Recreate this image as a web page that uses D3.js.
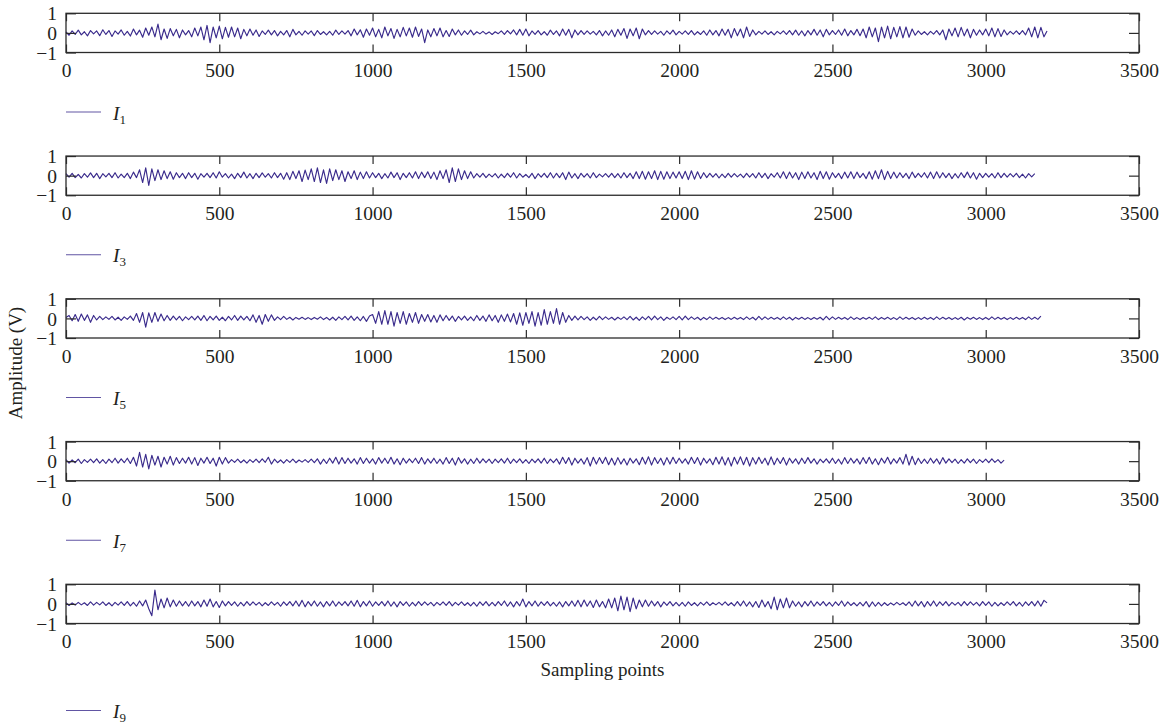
<!DOCTYPE html>
<html>
<head>
<meta charset="utf-8">
<script src="https://d3js.org/d3.v7.min.js"></script>
<style>
  body { margin: 0; background: #fff; }
  svg text { font-family: "Liberation Serif", "DejaVu Serif", serif; fill: #231f20; }
  .tick line { stroke: #2b2b2b; stroke-width: 1.2; }
</style>
</head>
<body>
<svg id="chart" width="1171" height="725"></svg>
<script>
// one value every `step` sampling points
const step = 10;

const I1 = [
  .05,-.12,.1,-.08,.14,-.1,.06,-.15,.12,-.05,.1,-.14,.16,-.08,.12,-.18,.1,-.06,.15,-.12,
  .08,-.16,.2,-.1,.14,-.22,.25,-.12,.3,-.2,.45,-.35,.2,-.28,.22,-.15,.18,-.25,.15,-.1,
  .12,-.2,.25,-.15,.3,-.35,.38,-.5,.3,-.25,.35,-.3,.28,-.22,.3,-.2,.25,-.3,.18,-.15,
  .2,-.12,.15,-.18,.1,-.08,.14,-.1,.12,-.15,.08,-.1,.12,-.2,.18,-.1,.08,-.12,.1,-.06,
  .1,-.14,.12,-.08,.06,-.1,.08,-.12,.14,-.08,.1,-.06,.12,-.15,.2,-.1,.16,-.22,.2,-.12,
  .25,-.2,.18,-.25,.3,-.15,.22,-.28,.18,-.2,.28,-.15,.25,-.22,.3,-.18,.2,-.5,.15,-.2,
  .22,-.15,.25,-.2,.12,-.18,.2,-.1,.15,-.12,.1,-.08,.14,-.1,.06,-.05,.08,-.06,.05,-.08,
  .06,-.04,.1,-.08,.12,-.05,.15,-.1,.18,-.12,.2,-.15,.1,-.08,.12,-.1,.06,-.12,.14,-.08,
  .1,-.15,.2,-.12,.18,-.25,.15,-.1,.12,-.08,.1,-.06,.08,-.1,.12,-.15,.1,-.12,.15,-.2,
  .18,-.12,.22,-.28,.2,-.15,.25,-.3,.2,-.1,.12,-.08,.1,-.06,.08,-.12,.1,-.06,.14,-.1,
  .08,-.06,.1,-.08,.12,-.1,.06,-.08,.1,-.12,.15,-.1,.12,-.15,.2,-.12,.18,-.25,.22,-.15,
  .2,-.25,.3,-.18,.15,-.1,.08,-.06,.1,-.08,.06,-.1,.08,-.05,.1,-.08,.12,-.1,.14,-.12,
  .1,-.15,.12,-.1,.18,-.12,.15,-.2,.18,-.1,.12,-.08,.15,-.12,.2,-.15,.12,-.1,.18,-.14,
  .2,-.25,.3,-.2,.25,-.45,.3,-.25,.35,-.3,.28,-.2,.32,-.25,.3,-.22,.2,-.12,.1,-.08,
  .06,-.1,.08,-.06,.12,-.1,.15,-.35,.2,-.15,.25,-.2,.28,-.15,.2,-.25,.18,-.12,.15,-.1,
  .2,-.15,.25,-.2,.22,-.18,.15,-.1,.08,-.06,.1,-.08,.12,-.1,.25,-.2,.3,-.25,.28,-.2,
  .1
];

const I3 = [
  .1,-.08,.12,-.1,.06,-.12,.1,-.08,.14,-.1,.12,-.15,.1,-.06,.12,-.1,.15,-.12,.08,-.1,
  .12,-.15,.18,-.1,.3,-.35,.4,-.5,.35,-.25,.3,-.2,.25,-.15,.2,-.18,.15,-.1,.12,-.15,
  .15,-.1,.12,-.18,.1,-.08,.12,-.1,.15,-.12,.2,-.08,.1,-.12,.08,-.15,.12,-.1,.18,-.12,
  .1,-.15,.12,-.1,.14,-.08,.1,-.12,.15,-.1,.12,-.18,.15,-.2,.22,-.15,.25,-.3,.28,-.2,
  .35,-.3,.4,-.35,.3,-.4,.35,-.25,.3,-.2,.25,-.3,.2,-.15,.25,-.2,.18,-.15,.2,-.12,
  .15,-.1,.12,-.15,.1,-.12,.18,-.1,.15,-.2,.12,-.1,.15,-.12,.2,-.15,.18,-.1,.2,-.15,
  .18,-.2,.25,-.15,.3,-.35,.4,-.3,.35,-.2,.25,-.15,.2,-.12,.1,-.08,.12,-.1,.08,-.06,
  .1,-.12,.08,-.1,.12,-.08,.15,-.12,.1,-.08,.06,-.1,.12,-.15,.1,-.08,.12,-.1,.15,-.12,
  .12,-.1,.15,-.2,.18,-.12,.1,-.15,.12,-.08,.1,-.12,.15,-.1,.08,-.06,.1,-.08,.12,-.1,
  .1,-.12,.15,-.1,.12,-.15,.2,-.15,.22,-.18,.2,-.15,.25,-.2,.22,-.18,.2,-.15,.18,-.12,
  .2,-.15,.22,-.2,.25,-.18,.2,-.15,.15,-.1,.12,-.08,.1,-.12,.08,-.1,.12,-.08,.1,-.06,
  .08,-.1,.12,-.08,.1,-.12,.15,-.1,.12,-.15,.1,-.08,.15,-.12,.2,-.15,.18,-.12,.15,-.2,
  .18,-.15,.2,-.12,.15,-.2,.22,-.15,.2,-.18,.15,-.1,.12,-.15,.18,-.12,.2,-.15,.18,-.1,
  .12,-.15,.2,-.18,.25,-.15,.3,-.2,.22,-.15,.18,-.12,.15,-.1,.12,-.15,.18,-.1,.12,-.08,
  .15,-.12,.18,-.15,.2,-.12,.15,-.1,.12,-.15,.1,-.12,.15,-.1,.18,-.12,.15,-.18,.12,-.1,
  .12,-.08,.1,-.12,.15,-.1,.12,-.08,.1,-.06,.12,-.1,.08,-.12,.1,-.06,.1
];

const I5 = [
  .05,.15,-.12,.2,-.15,.22,-.1,.18,-.2,.15,-.08,.1,-.06,.08,-.05,.1,-.08,.06,-.1,.08,
  -.05,.12,-.1,.25,-.2,.3,-.45,.28,-.2,.3,-.15,.22,-.12,.15,-.1,.12,-.08,.1,-.12,.08,
  -.06,.1,-.08,.12,-.1,.15,-.12,.1,-.08,.12,-.1,.06,-.12,.1,-.08,.15,-.1,.12,-.08,.1,
  -.12,.18,-.2,.15,-.3,.2,-.15,.18,-.1,.08,-.06,.1,-.05,.06,-.08,.05,-.04,.06,-.05,.04,
  -.06,.05,-.04,.08,-.06,.05,-.08,.06,-.1,.08,-.06,.1,-.08,.12,-.1,.08,-.12,.1,-.15,.12,
  .2,-.25,.35,-.3,.4,-.3,.35,-.4,.3,-.25,.35,-.3,.25,-.2,.3,-.25,.2,-.15,.2,-.18,
  .15,-.2,.18,-.12,.15,-.1,.12,-.15,.1,-.08,.12,-.1,.08,-.12,.15,-.1,.12,-.15,.18,-.12,
  .15,-.2,.18,-.15,.22,-.18,.25,-.3,.28,-.35,.3,-.25,.35,-.4,.3,-.35,.45,-.3,.35,-.25,
  .5,-.3,.3,-.2,.15,-.1,.12,-.08,.1,-.06,.08,-.1,.06,-.08,.1,-.06,.08,-.05,.06,-.08,
  .06,-.05,.08,-.06,.1,-.08,.06,-.1,.08,-.06,.1,-.08,.12,-.06,.08,-.1,.06,-.05,.08,-.06,
  .1,-.08,.12,-.06,.08,-.05,.06,-.08,.05,-.06,.08,-.05,.06,-.04,.05,-.06,.04,-.05,.06,-.04,
  .05,-.06,.08,-.05,.06,-.08,.1,-.06,.08,-.05,.06,-.04,.05,-.06,.08,-.05,.06,-.08,.05,-.04,
  .06,-.05,.04,-.06,.05,-.04,.06,-.08,.1,-.06,.08,-.05,.06,-.04,.05,-.06,.08,-.05,.04,-.06,
  .05,-.04,.06,-.05,.08,-.06,.05,-.04,.06,-.05,.04,-.06,.08,-.05,.06,-.04,.05,-.06,.04,-.05,
  .06,-.04,.05,-.06,.08,-.05,.06,-.04,.05,-.06,.04,-.05,.06,-.08,.05,-.04,.06,-.05,.04,-.06,
  .05,-.06,.08,-.05,.06,-.04,.05,-.06,.04,-.05,.06,-.04,.05,-.06,.08,-.05,.06,-.05,.12
];

const I7 = [
  .08,-.1,.06,-.08,.1,-.12,.08,-.06,.1,-.08,.12,-.1,.08,-.12,.1,-.08,.15,-.1,.12,-.08,
  .15,-.12,.2,-.25,.45,-.3,.35,-.4,.3,-.2,.25,-.3,.2,-.15,.25,-.2,.18,-.12,.15,-.1,
  .2,-.15,.18,-.22,.15,-.1,.2,-.12,.15,-.25,.2,-.15,.18,-.1,.08,-.06,.1,-.08,.06,-.1,
  .08,-.06,.1,-.08,.12,-.06,.2,-.15,.1,-.08,.06,-.1,.08,-.06,.1,-.08,.06,-.05,.08,-.06,
  .1,-.08,.12,-.15,.1,-.12,.15,-.1,.2,-.15,.18,-.12,.15,-.1,.12,-.15,.18,-.12,.15,-.1,
  .12,-.15,.18,-.1,.15,-.12,.2,-.15,.12,-.18,.15,-.1,.12,-.08,.15,-.12,.18,-.15,.12,-.1,
  .15,-.12,.1,-.15,.18,-.12,.15,-.2,.18,-.1,.12,-.15,.1,-.12,.15,-.1,.12,-.08,.1,-.12,
  .1,-.08,.12,-.1,.15,-.12,.1,-.08,.12,-.1,.08,-.12,.1,-.08,.12,-.1,.15,-.12,.1,-.08,
  .12,-.15,.2,-.12,.18,-.2,.15,-.1,.12,-.15,.18,-.25,.2,-.15,.18,-.12,.2,-.18,.15,-.2,
  .18,-.15,.12,-.2,.15,-.1,.12,-.18,.2,-.15,.22,-.2,.18,-.12,.15,-.2,.18,-.15,.2,-.12,
  .15,-.1,.12,-.15,.2,-.12,.18,-.2,.15,-.1,.12,-.18,.2,-.15,.22,-.2,.18,-.25,.2,-.15,
  .22,-.18,.2,-.25,.18,-.15,.2,-.12,.15,-.2,.22,-.18,.15,-.12,.18,-.2,.15,-.1,.12,-.15,
  .15,-.12,.18,-.1,.12,-.15,.1,-.08,.12,-.1,.15,-.12,.1,-.15,.18,-.12,.15,-.1,.12,-.15,
  .18,-.12,.2,-.15,.12,-.18,.15,-.1,.2,-.15,.12,-.1,.18,-.15,.35,-.2,.25,-.18,.15,-.12,
  .1,-.12,.15,-.1,.12,-.15,.18,-.1,.12,-.08,.1,-.12,.08,-.1,.12,-.08,.1,-.12,.08,-.06,
  .1,-.08,.12,-.06,.08,-.1,.05
];

const I9 = [
  .06,-.08,.05,-.06,.08,-.05,.06,-.08,.1,-.06,.08,-.05,.1,-.08,.06,-.1,.08,-.06,.1,-.08,
  .12,-.1,.08,-.12,.15,-.1,.2,-.25,-.6,.7,-.3,.25,-.2,.3,-.15,.2,-.12,.15,-.1,.12,
  -.12,.15,-.1,.12,-.15,.2,-.12,.25,-.15,.12,-.18,.15,-.1,.12,-.08,.1,-.12,.08,-.1,.12,
  -.08,.1,-.06,.08,-.1,.06,-.08,.1,-.06,.08,-.12,.1,-.08,.12,-.1,.15,-.12,.18,-.15,.12,
  -.1,.15,-.12,.1,-.15,.12,-.1,.15,-.12,.1,-.08,.12,-.1,.15,-.12,.18,-.15,.12,-.1,.15,
  -.12,.1,-.08,.12,-.1,.15,-.12,.1,-.15,.12,-.08,.1,-.12,.08,-.1,.12,-.08,.1,-.06,.08,
  -.1,.08,-.06,.1,-.08,.12,-.1,.08,-.06,.1,-.08,.06,-.1,.08,-.12,.1,-.08,.12,-.1,.08,
  -.1,.12,-.08,.15,-.12,.1,-.15,.12,-.1,.25,-.15,.12,-.1,.15,-.12,.1,-.08,.12,-.1,.08,
  -.12,.1,-.15,.12,-.1,.15,-.12,.18,-.15,.2,-.12,.15,-.18,.2,-.15,.12,-.2,.25,-.2,.3,
  -.35,.4,-.3,.35,-.4,.3,-.25,.2,-.15,.2,-.12,.15,-.1,.12,-.15,.1,-.08,.12,-.1,.08,
  -.1,.08,-.12,.1,-.08,.06,-.1,.08,-.06,.1,-.08,.06,-.05,.08,-.06,.1,-.08,.06,-.1,.12,
  -.1,.15,-.12,.1,-.15,.12,-.18,.2,-.15,.12,-.25,.35,-.3,.25,-.2,.3,-.2,.15,-.12,.1,
  -.15,.12,-.1,.15,-.12,.1,-.08,.12,-.1,.08,-.12,.1,-.08,.15,-.12,.1,-.08,.06,-.1,.08,
  -.1,.12,-.15,.1,-.12,.08,-.1,.06,-.08,.05,-.06,.08,-.05,.06,-.08,.1,-.12,.15,-.1,.12,
  -.15,.12,-.1,.15,-.12,.1,-.08,.12,-.1,.08,-.06,.08,-.1,.12,-.08,.1,-.06,.08,-.1,.12,
  -.08,.1,-.12,.08,-.1,.06,-.08,.1,-.06,.12,-.1,.08,-.12,.1,-.08,.12,-.1,.15,-.12,.18,
  .05
];

const seriesNames = ["1", "3", "5", "7", "9"];
const seriesData = [I1, I3, I5, I7, I9];
const xTicks = [0, 500, 1000, 1500, 2000, 2500, 3000, 3500];
const yTicks = [-1, 0, 1];

const lineColor = "#3a2b8c";
const frameColor = "#2b2b2b";

const left = 66, right = 1139;
const top0 = 13.3, pitch = 142.75, ph = 39.2;

const svg = d3.select("#chart");
const x = d3.scaleLinear().domain([0, 3500]).range([left, right]);
const fmt = d3.format("d");

seriesData.forEach(function (data, k) {
  const top = top0 + k * pitch;
  const bottom = top + ph;
  const y = d3.scaleLinear().domain([-1, 1]).range([bottom, top]);
  const g = svg.append("g");

  // signal
  const line = d3.line()
    .x(function (d, i) { return x(i * step); })
    .y(function (d) { return y(d); });
  g.append("path")
    .datum(data)
    .attr("d", line)
    .attr("fill", "none")
    .attr("stroke", lineColor)
    .attr("stroke-width", 1.15)
    .attr("stroke-linejoin", "round");

  // axes with inward ticks
  const bAxis = g.append("g")
    .attr("transform", "translate(0," + bottom + ")")
    .call(d3.axisBottom(x).tickValues(xTicks).tickFormat(fmt).tickSizeInner(-8).tickSizeOuter(0).tickPadding(11));
  const tAxis = g.append("g")
    .attr("transform", "translate(0," + top + ")")
    .call(d3.axisTop(x).tickValues(xTicks).tickSizeInner(-8).tickSizeOuter(0).tickFormat(""));
  const lAxis = g.append("g")
    .attr("transform", "translate(" + left + ",0)")
    .call(d3.axisLeft(y).tickValues(yTicks).tickFormat(fmt).tickSizeInner(-10).tickSizeOuter(0).tickPadding(9));
  const rAxis = g.append("g")
    .attr("transform", "translate(" + right + ",0)")
    .call(d3.axisRight(y).tickValues(yTicks).tickSizeInner(-10).tickSizeOuter(0).tickFormat(""));

  [bAxis, tAxis, lAxis, rAxis].forEach(function (a) {
    a.select(".domain").remove();
    a.selectAll("text").style("font-size", "19.5px").attr("fill", "#231f20");
  });
  lAxis.selectAll("text").attr("dy", "0.34em");

  g.append("rect")
    .attr("x", left).attr("y", top)
    .attr("width", right - left).attr("height", ph)
    .attr("fill", "none")
    .attr("stroke", frameColor)
    .attr("stroke-width", 1.3);

  // legend
  const ly = bottom + (k === 4 ? 87 : 59.5);
  g.append("line")
    .attr("x1", 66).attr("x2", 101)
    .attr("y1", ly).attr("y2", ly)
    .attr("stroke", lineColor)
    .attr("stroke-opacity", 0.8)
    .attr("stroke-width", 1);
  const lt = g.append("text")
    .attr("x", 113).attr("y", ly + 7.5)
    .style("font-size", "19.5px");
  lt.append("tspan").style("font-style", "italic").text("I");
  lt.append("tspan").attr("dy", 4).style("font-size", "13px").text(seriesNames[k]);
});

svg.append("text")
  .attr("x", (left + right) / 2)
  .attr("y", top0 + 4 * pitch + ph + 52)
  .attr("text-anchor", "middle")
  .style("font-size", "19px")
  .text("Sampling points");

svg.append("text")
  .attr("transform", "translate(22,363) rotate(-90)")
  .attr("text-anchor", "middle")
  .style("font-size", "19px")
  .text("Amplitude (V)");
</script>
</body>
</html>
